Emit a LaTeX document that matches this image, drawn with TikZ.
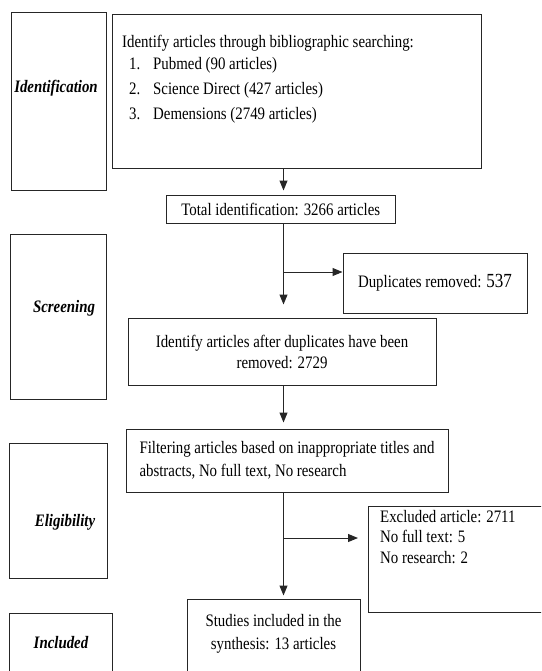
\documentclass[tikz,border=0pt]{standalone}
\usepackage{fontspec}
\setmainfont{Liberation Serif}[FakeStretch=0.85]
\usetikzlibrary{arrows.meta}
\usetikzlibrary{positioning}

\begin{document}
\begin{tikzpicture}[x=1pt,y=-1pt,
 box/.style={draw=black!85,line width=1pt,inner sep=0pt},
 txt/.style={inner sep=0pt,font=\fontsize{17.5}{22}\selectfont},
 stage/.style={inner sep=0pt,font=\fontsize{17.5}{22}\selectfont\bfseries\itshape},
 arr/.style={draw=black!85,line width=1pt,-{Triangle[length=10pt,width=8pt]}}]
\clip (0,0) rectangle (541,671);
% stages on the left
\node[box,minimum width=95pt,minimum height=177pt] (idbox) at (58.5,101.5) {};
\node[stage] (idlab) at (56,88) {Identification};
\node[box,minimum width=96pt,minimum height=165pt] (scrbox) at (58,316.5) {};
\node[stage] (scrlab) at (64,308) {Screening};
\node[box,minimum width=98pt,minimum height=135pt] (eligbox) at (58,510.5) {};
\node[stage] (eliglab) at (65,522) {Eligibility};
\node[box,minimum width=103pt,minimum height=87pt] (inclbox) at (60.5,656.5) {};
\node[stage] (incllab) at (61,643) {Included};
% flow
\node[box,minimum width=369pt,minimum height=154pt] (srch) at (296.5,92) {};
\node[txt,align=left,anchor=north west,font=\fontsize{17.5}{25}\selectfont] (srchtxt) at (122,35)
 {Identify articles through bibliographic searching:\\[-3pt]
 \hspace*{7pt}\makebox[24pt][l]{1.}Pubmed (90 articles)\\
 \hspace*{7pt}\makebox[24pt][l]{2.}Science Direct (427 articles)\\
 \hspace*{7pt}\makebox[24pt][l]{3.}Demensions (2749 articles)};
\node[box,txt,minimum width=228.5pt,minimum height=28pt] (tot) at (280.75,209) {Total identification: 3266 articles};
\node[box,txt,minimum width=184pt,minimum height=60pt] (dup) at (435,283) {Duplicates removed: {\fontsize{20}{22}\selectfont 537}};
\node[box,txt,align=center,minimum width=308pt,minimum height=67pt,font=\fontsize{17.5}{21}\selectfont] (aft) at (282,351.5)
 {Identify articles after duplicates have been\\ removed: 2729};
\node[box,txt,align=left,minimum width=322pt,minimum height=63pt,font=\fontsize{17.5}{23}\selectfont] (filt) at (287,460.5)
 {Filtering articles based on inappropriate titles and\\ abstracts, No full text, No research};
\node[box,minimum width=202pt,minimum height=106pt] (excl) at (469,559) {};
\node[txt,align=left,anchor=north west,font=\fontsize{17.5}{20.5}\selectfont] (excltxt) at (380,510)
 {Excluded article: 2711\\ No full text: 5\\ No research: 2};
\node[box,minimum width=173pt,minimum height=101pt] (stud) at (273.5,649.5) {};
\node[txt,align=center,font=\fontsize{17.5}{23}\selectfont] (studtxt) at (273.5,633.5)
 {Studies included in the\\ synthesis: 13 articles};
% arrows
\coordinate (spine) at (283.5,0);
\coordinate (br1) at (283.5,272);
\coordinate (br2) at (283.5,538);
\draw[arr,shorten >=4pt] (srch.south -| spine) -- (tot.north -| spine);
\draw[arr,shorten >=13pt] (tot.south -| spine) -- (aft.north -| spine);
\draw[arr] (br1) -- (br1 -| dup.west);
\draw[arr,shorten >=6pt] (aft.south -| spine) -- (filt.north -| spine);
\draw[arr,shorten >=3pt] (filt.south -| spine) -- (stud.north -| spine);
\draw[arr,shorten >=9.5pt] (br2) -- (br2 -| excl.west);
\end{tikzpicture}
\end{document}
